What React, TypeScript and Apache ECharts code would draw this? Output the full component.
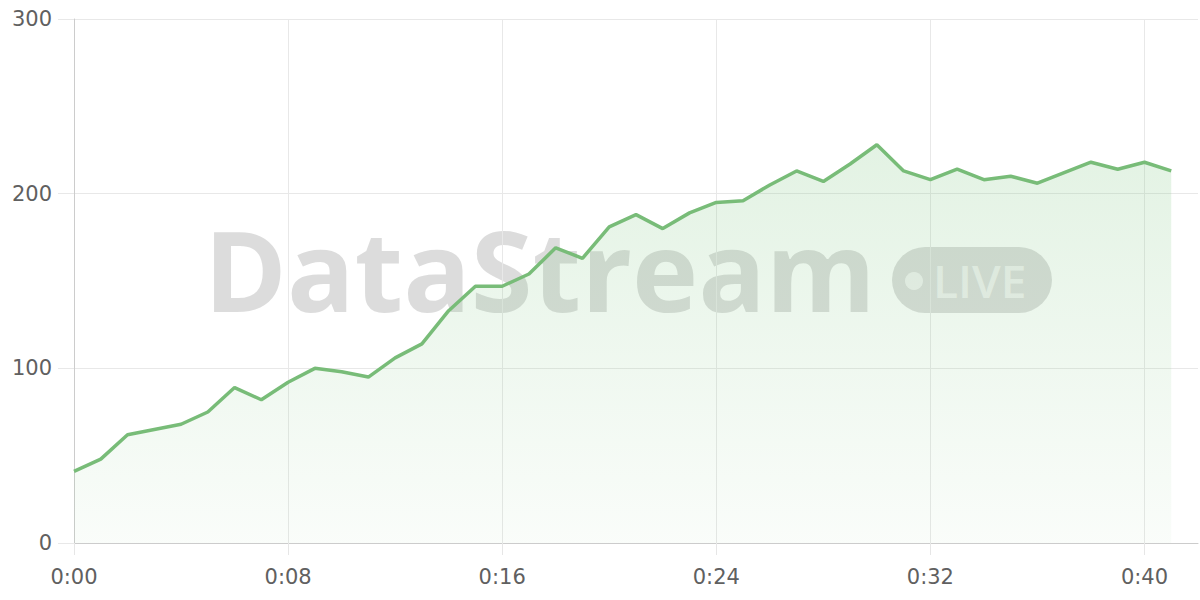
import React, { useEffect, useRef } from "react";
import * as echarts from "echarts";

const timeLabels = [
  "0:00", "0:01", "0:02", "0:03", "0:04", "0:05", "0:06", "0:07", "0:08", "0:09",
  "0:10", "0:11", "0:12", "0:13", "0:14", "0:15", "0:16", "0:17", "0:18", "0:19",
  "0:20", "0:21", "0:22", "0:23", "0:24", "0:25", "0:26", "0:27", "0:28", "0:29",
  "0:30", "0:31", "0:32", "0:33", "0:34", "0:35", "0:36", "0:37", "0:38", "0:39",
  "0:40", "0:41", "0:42",
];

const streamValues = [
  41, 48, 62, 65, 68, 75, 89, 82, 92, 100,
  98, 95, 106, 114, 133, 147, 147, 154, 169, 163,
  181, 188, 180, 189, 195, 196, 205, 213, 207, 217,
  228, 213, 208, 214, 208, 210, 206, 212, 218, 214,
  218, 213,
];

const yTicks = { min: 0, max: 300, interval: 100 };

const FONT = "DejaVu Sans";

export default function App() {
  const ref = useRef<HTMLDivElement>(null);

  useEffect(() => {
    if (!ref.current) return;
    const chart = echarts.init(ref.current, undefined, { renderer: "svg" });
    chart.setOption({
      animation: false,
      backgroundColor: "#ffffff",
      grid: { left: 74, right: 2, top: 19, bottom: 57, containLabel: false },
      xAxis: {
        type: "category",
        data: timeLabels,
        boundaryGap: false,
        axisLine: { show: true, lineStyle: { color: "#cccccc", width: 1 } },
        axisTick: { show: true, interval: 7, length: 12, lineStyle: { color: "#e6e6e6" } },
        axisLabel: { interval: 7, color: "#606060", fontSize: 21, fontFamily: FONT, margin: 23 },
        splitLine: { show: true, interval: 7, lineStyle: { color: "#e8e8e8", width: 1 } },
      },
      yAxis: {
        type: "value",
        min: yTicks.min,
        max: yTicks.max,
        interval: yTicks.interval,
        axisLine: { show: true, lineStyle: { color: "#cccccc", width: 1 } },
        axisTick: { show: true, length: 16, lineStyle: { color: "#e8e8e8" } },
        axisLabel: { color: "#606060", fontSize: 21, fontFamily: FONT, margin: 22 },
        splitLine: { show: true, lineStyle: { color: "#e8e8e8", width: 1 } },
      },
      graphic: [
        {
          type: "text",
          z: 0,
          x: 204,
          y: 268,
          style: {
            text: "DataStream",
            fontFamily: "Open Sans",
            fontWeight: "bold",
            fontSize: 112,
            fill: "rgba(140,140,140,0.3)",
            align: "left",
            verticalAlign: "middle",
          },
        },
        {
          type: "rect",
          z: 0,
          shape: { x: 892, y: 247, width: 160, height: 66, r: 33 },
          style: { fill: "rgba(140,140,140,0.3)" },
        },
        {
          type: "circle",
          z: 0,
          shape: { cx: 914, cy: 281, r: 9 },
          style: { fill: "rgba(255,255,255,0.6)" },
        },
        {
          type: "text",
          z: 0,
          x: 933,
          y: 280,
          style: {
            text: "LIVE",
            fontFamily: "Open Sans",
            fontWeight: 600,
            fontSize: 46,
            fill: "rgba(255,255,255,0.6)",
            align: "left",
            verticalAlign: "middle",
          },
        },
      ],
      series: [
        {
          type: "line",
          data: streamValues,
          symbol: "none",
          smooth: false,
          z: 3,
          lineStyle: { color: "#78bc78", width: 3.5 },
          itemStyle: { color: "#78bc78" },
          areaStyle: {
            color: new echarts.graphic.LinearGradient(0, 0, 0, 1, [
              { offset: 0, color: "rgba(129,199,132,0.32)" },
              { offset: 1, color: "rgba(129,199,132,0.06)" },
            ]),
          },
        },
      ],
    });
    return () => chart.dispose();
  }, []);

  return (
    <div
      ref={ref}
      style={{ position: "fixed", left: 0, top: 0, width: 1200, height: 600 }}
    />
  );
}
